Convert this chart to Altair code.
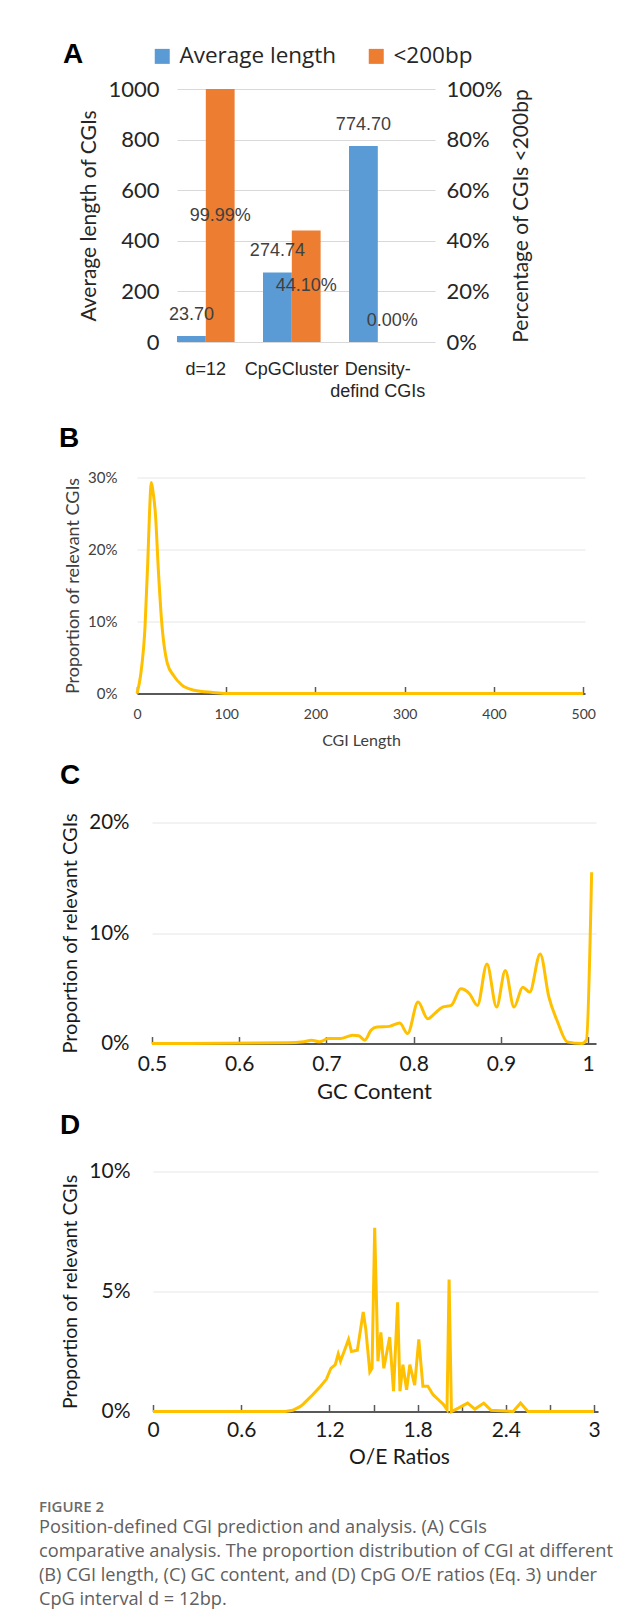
import altair as alt
import pandas as pd

# ---------------- Panel A data ----------------
categories = ["d=12", "CpGCluster", "Density-defind CGIs"]
series_names = ["Average length", "<200bp"]
avg_length = [23.70, 274.74, 774.70]
pct_under_200 = [0.9999, 0.4410, 0.0000]
avg_labels = ["23.70", "274.74", "774.70"]
pct_labels = ["99.99%", "44.10%", "0.00%"]

# ---------------- Panel B data (CGI length) ----------------
len_x = [0, 4, 9, 12, 14, 16, 18, 20.6, 24, 27.5, 34, 41, 50, 64, 85, 100, 200, 300, 400, 500]
len_y = [0, 2.5, 9.3, 18, 25, 29.3, 28, 25, 17, 10.2, 4.2, 2.5, 1.2, 0.46, 0.14, 0, 0, 0, 0, 0]

# ---------------- Panel C data (GC content) ----------------
gc_x = [0.5, 0.655, 0.674, 0.683, 0.692, 0.702, 0.716, 0.730, 0.737, 0.744, 0.751, 0.758,
        0.772, 0.784, 0.793, 0.805, 0.816, 0.824, 0.833, 0.843, 0.854, 0.864, 0.873, 0.884,
        0.895, 0.905, 0.915, 0.925, 0.933, 0.945, 0.955, 0.965, 0.976, 0.993, 0.998, 1.004]
gc_y = [0, 0.06, 0.15, 0.3, 0.15, 0.45, 0.45, 0.75, 0.7, 0.3, 1.2, 1.5,
        1.55, 1.85, 0.9, 3.75, 2.25, 2.7, 3.3, 3.45, 4.95, 4.5, 3.45, 7.2,
        3.3, 6.6, 3.3, 5.1, 4.65, 8.1, 4.2, 1.95, 0.15, 0, 0.3, 15.5]

# ---------------- Panel D data (O/E ratios) ----------------
oe_x = [0, 0.9, 0.95, 1.0, 1.02, 1.086, 1.14, 1.18, 1.21, 1.24, 1.26, 1.275, 1.30, 1.33,
        1.35, 1.39, 1.43, 1.447, 1.475, 1.49, 1.508, 1.53, 1.55, 1.57, 1.61, 1.636, 1.664,
        1.68, 1.70, 1.725, 1.747, 1.78, 1.808, 1.836, 1.87, 1.905, 1.94, 1.975, 2.0, 2.014,
        2.03, 2.08, 2.14, 2.19, 2.25, 2.3, 2.45, 2.5, 2.55, 3.0]
oe_y = [0, 0, 0.05, 0.2, 0.3, 0.7, 1.05, 1.35, 1.8, 1.95, 2.4, 2.1, 2.5, 3.0,
        2.5, 2.55, 4.15, 3.45, 1.65, 1.8, 7.65, 2.1, 3.3, 1.8, 3.1, 0.85, 4.55,
        0.85, 1.95, 0.9, 1.95, 1.1, 3.0, 1.05, 1.05, 0.7, 0.5, 0.3, 0.08, 5.5,
        0, 0.15, 0.35, 0.1, 0.35, 0.05, 0.0, 0.35, 0, 0]

caption_title = "FIGURE 2"
caption_lines = [
    "Position-defined CGI prediction and analysis. (A) CGIs",
    "comparative analysis. The proportion distribution of CGI at different",
    "(B) CGI length, (C) GC content, and (D) CpG O/E ratios (Eq. 3) under",
    "CpG interval d = 12bp.",
]

GOLD = "#FFC000"
BLUE = "#5B9BD5"
ORANGE = "#ED7D31"
ARIAL = "Liberation Sans"
CAL = "Lato"
CAPF = "Open Sans"
DARK = "#262626"

# ================= Panel A =================
dfa = pd.DataFrame({
    "category": categories * 2,
    "series": [series_names[0]] * 3 + [series_names[1]] * 3,
    "value": avg_length + pct_under_200,
    "label": avg_labels + pct_labels,
})

x_a = alt.X(
    "category:N", sort=categories,
    scale=alt.Scale(paddingInner=0.33, paddingOuter=0.165, align=0),
    axis=alt.Axis(title=None, labelAngle=0, domain=False, ticks=False,
                  labelFont=ARIAL, labelFontSize=18, labelColor=DARK,
                  labelPadding=18, labelLineHeight=22, labelLimit=300,
                  labelExpr="datum.value == 'Density-defind CGIs' ? ['Density-', 'defind CGIs'] : datum.value"),
)
xo_a = alt.XOffset("series:N", sort=series_names,
                   scale=alt.Scale(domain=series_names, paddingInner=0, paddingOuter=0))
# the legend is hoisted to the top-level group, so legendX is measured from its origin
col_a = alt.Color("series:N", scale=alt.Scale(domain=series_names, range=[BLUE, ORANGE]),
                  legend=alt.Legend(title=None, orient="none", legendX=112, legendY=-44,
                                    direction="horizontal", symbolType="square",
                                    symbolSize=225, symbolStrokeWidth=0,
                                    labelFont=CAPF, labelFontSize=22.5, labelColor=DARK,
                                    labelOffset=6, columnPadding=28, labelLimit=300))

base_a = alt.Chart(dfa)
left_scale = alt.Scale(domain=[0, 1000], nice=False)
right_scale = alt.Scale(domain=[0, 1], nice=False)
left_y = alt.Y("value:Q", scale=left_scale,
               axis=alt.Axis(values=[0, 200, 400, 600, 800, 1000], format="d",
                             title="Average length of CGIs",
                             grid=True, gridColor="#D9D9D9", domain=False, ticks=False,
                             labelFont=CAL, labelFontSize=22, labelColor=DARK, labelPadding=18,
                             titleFont=CAL, titleFontSize=21, titleFontWeight="normal",
                             titleColor=DARK, titleX=-88, titleBaseline="middle"))
right_y = alt.Y("value:Q", scale=right_scale,
                axis=alt.Axis(orient="right", values=[0, 0.2, 0.4, 0.6, 0.8, 1.0], format=".0%",
                              title="Percentage of CGIs <200bp", grid=False, domain=False, ticks=False,
                              labelFont=CAL, labelFontSize=22, labelColor=DARK, labelPadding=11,
                              titleFont=CAL, titleFontSize=21, titleFontWeight="normal",
                              titleColor=DARK, titleAngle=270, titleX=86, titleBaseline="middle"))

is_avg = alt.datum.series == series_names[0]
is_pct = alt.datum.series == series_names[1]

blue_bars = base_a.mark_bar().encode(x=x_a, xOffset=xo_a, y=left_y, color=col_a).transform_filter(is_avg)
or_bars = base_a.mark_bar().encode(x=x_a, xOffset=xo_a, y=right_y, color=col_a).transform_filter(is_pct)
blue_text = base_a.mark_text(dy=-21, font=ARIAL, fontSize=18, color="#404040", baseline="middle").encode(
    x=x_a, xOffset=xo_a, y=alt.Y("value:Q", scale=left_scale, axis=None),
    text="label:N").transform_filter(is_avg)
or_text = base_a.mark_text(font=ARIAL, fontSize=18, color="#404040", baseline="middle").encode(
    x=x_a, xOffset=xo_a, y=alt.Y("half:Q", scale=right_scale, axis=None), text="label:N"
).transform_filter(is_pct).transform_filter(alt.datum.value > 0).transform_calculate(
    half="datum.value / 2")
or_text0 = base_a.mark_text(dy=-21, font=ARIAL, fontSize=18, color="#404040", baseline="middle").encode(
    x=x_a, xOffset=xo_a, y=alt.Y("value:Q", scale=right_scale, axis=None), text="label:N"
).transform_filter(is_pct).transform_filter(alt.datum.value == 0)

panel_a = alt.layer(blue_bars, or_bars, blue_text, or_text, or_text0).resolve_scale(
    y="independent").properties(
    width=258, height=253,
    title=alt.TitleParams("A", anchor="start", frame="group", dx=-114, offset=9,
                          font=ARIAL, fontSize=28, fontWeight="bold", color="#000000"))


# ================= Distribution panels =================
def dist_panel(letter, xs, ys, xtitle, xdomain, xlabels, xticks, ydomain, yvalues,
               width, height, letter_dx, letter_offset, tick_fs, ylab_fs, ytitle_fs,
               xtitle_fs, ylab_pad, xlab_pad, ytitle_x, xtitle_y, interp,
               xtitle_x=None, labcol="#1A1A1A"):
    df = pd.DataFrame({"x": xs, "y": ys})
    xs_scale = alt.Scale(domain=xdomain, nice=False, zero=False)
    ys_scale = alt.Scale(domain=ydomain, nice=False)
    y_axis = alt.Axis(values=yvalues, labelExpr="datum.value + '%'", grid=True,
                      gridColor="#E6E6E6", domain=False, ticks=False,
                      labelFont=CAL, labelFontSize=ylab_fs, labelColor=labcol,
                      labelPadding=ylab_pad, title="Proportion of relevant CGIs",
                      titleFont=CAL, titleFontSize=ytitle_fs, titleFontWeight="normal",
                      titleColor=labcol, titleX=ytitle_x, titleBaseline="middle")
    tick_layer = alt.Chart(df).mark_line(opacity=0).encode(
        x=alt.X("x:Q", scale=xs_scale,
                axis=alt.Axis(orient="top", offset=-height, values=xticks, labels=False,
                              title=None, grid=False, domain=True, domainColor="#595959",
                              domainWidth=2, ticks=True, tickSize=7, tickColor="#595959",
                              tickWidth=1.5)),
        y=alt.Y("y:Q", scale=ys_scale, axis=y_axis),
    )
    xaxis_kw = dict(orient="bottom", values=xlabels, ticks=False, domain=False, grid=False,
                    format="~r", labelFlush=False, labelFont=CAL, labelFontSize=tick_fs,
                    labelColor=labcol, labelPadding=xlab_pad, title=xtitle, titleFont=CAL,
                    titleFontSize=xtitle_fs, titleFontWeight="normal", titleColor=labcol,
                    titleY=xtitle_y, titleBaseline="middle")
    if xtitle_x is not None:
        xaxis_kw["titleX"] = xtitle_x
    line_layer = alt.Chart(df).mark_line(color=GOLD, strokeWidth=3, interpolate=interp).encode(
        x=alt.X("x:Q", scale=xs_scale, axis=alt.Axis(**xaxis_kw)),
        y=alt.Y("y:Q", scale=ys_scale, axis=y_axis),
    )
    return alt.layer(tick_layer, line_layer).resolve_axis(x="independent").properties(
        width=width, height=height,
        title=alt.TitleParams(letter, anchor="start", frame="group", dx=letter_dx,
                              offset=letter_offset, font=ARIAL, fontSize=28,
                              fontWeight="bold", color="#000000"))


panel_b = dist_panel("B", len_x, len_y, "CGI Length", [0, 502], [0, 100, 200, 300, 400, 500],
                     [0, 100, 200, 300, 400, 500], [0, 30], [0, 10, 20, 30],
                     448, 216, -78, 18, 14, 15, 18, 16, 20, 14, -64, 46.5, "monotone",
                     labcol="#404040")
panel_c = dist_panel("C", gc_x, gc_y, "GC Content", [0.5, 1.009], [0.5, 0.6, 0.7, 0.8, 0.9, 1.0],
                     [0.5, 0.6, 0.7, 0.8, 0.9, 1.0], [0, 20], [0, 10, 20],
                     444, 221, -92, 23, 21, 20.5, 20, 22, 23, 10, -82, 48, "monotone")
panel_d = dist_panel("D", oe_x, oe_y, "O/E Ratios", [0, 3.027], [0, 0.6, 1.2, 1.8, 2.4, 3.0],
                     [0, 0.6, 1.2, 1.5, 1.8, 2.1, 2.4, 2.7, 3.0], [0, 10], [0, 5, 10],
                     445, 240, -93, 21, 21, 21, 19.5, 21, 23, 7.5, -83, 45.5, "linear",
                     xtitle_x=246)

# ================= Caption =================
cap_df = pd.DataFrame({"line": list(range(len(caption_lines))), "text": caption_lines})
caption = alt.Chart(cap_df).mark_text(
    align="left", baseline="middle", font=CAPF, fontSize=18.2, color="#606060").encode(
    x=alt.value(0),
    y=alt.Y("line:O", axis=None, scale=alt.Scale(paddingInner=0, paddingOuter=0)),
    text="text:N",
).properties(width=580, height=96,
             title=alt.TitleParams(caption_title, anchor="start", frame="group", offset=1,
                                   font=CAPF, fontSize=15, fontWeight=600, color="#6B6B6B"))


def indent(chart, w):
    """Invisible layout spacer placed left of a panel to set its left edge."""
    spacer = alt.Chart(pd.DataFrame({"s": [0]})).mark_rule(opacity=0).encode(
        x=alt.value(0), x2=alt.value(w), y=alt.value(0)).properties(width=w, height=1)
    return alt.hconcat(spacer, chart, spacing=0)


row_a = indent(panel_a, 24)
row_b = indent(panel_b, 20)
row_c = indent(panel_c, 20)
row_d = indent(panel_d, 20)

d_cap = alt.vconcat(row_d, caption, spacing=32)
cd = alt.vconcat(row_c, d_cap, spacing=9)
bcd = alt.vconcat(row_b, cd, spacing=13)

chart = alt.vconcat(row_a, bcd, spacing=24.5).properties(
    padding={"left": 31, "top": 33, "right": 5, "bottom": 5},
).configure_view(strokeWidth=0)

chart.save("out.html", embed_options={"renderer": "svg", "actions": False})
